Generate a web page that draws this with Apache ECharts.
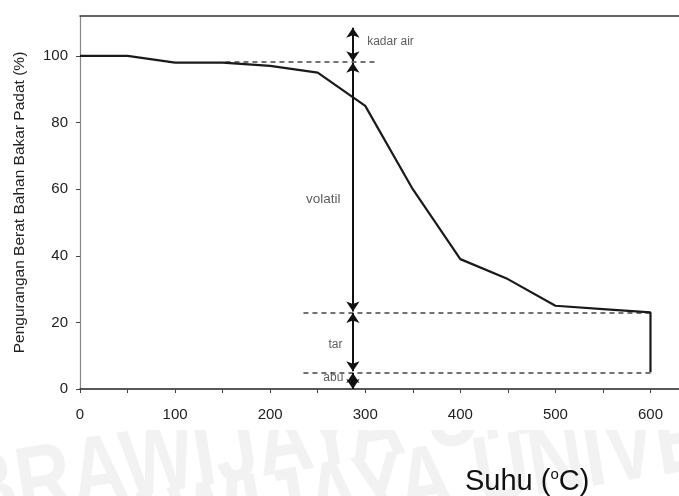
<!DOCTYPE html>
<html>
<head>
<meta charset="utf-8">
<script src="https://cdn.jsdelivr.net/npm/echarts@6/dist/echarts.min.js"></script>
<style>html,body{margin:0;padding:0;background:#fff}#c{width:679px;height:496px}</style>
</head>
<body>
<div id="c"></div>
<script>
// ---- data ----
const suhu  = [0, 50, 100, 150, 200, 250, 300, 350, 400, 450, 500, 550, 600, 600];
const berat = [100, 100, 98, 98, 97, 95, 85, 60, 39, 33, 25, 24, 23, 5];
const xTicks = [0, 50, 100, 150, 200, 250, 300, 350, 400, 450, 500, 550, 600];
const xLabels = [0, 100, 200, 300, 400, 500, 600];
const yTicks = [0, 20, 40, 60, 80, 100];
// reference levels (dashed): [y, xStart, xEnd]
const levelKadarAir = [98.2, 153, 312];
const levelTar = [23, 235, 600];
const levelAbu = [5, 235, 600];
// double-headed arrows at x = arrowX : [yStart, yEnd]
const arrowX = 287;
const arrowSegs = [[108.5, 98.4], [98, 23.3], [22.8, 5.3], [4.8, 0]];
// annotation texts: [text, x, y]
const notes = [["kadar air", 302, 104.3], ["volatil", 274, 57], ["tar", 276, 13.3], ["abu", 277, 3.3]];
const watermark = 'BRAWIJAYA UNIVERSITAS BRAWIJAYA';

const FONT = "'Liberation Sans',Arial,sans-serif";
const chart = echarts.init(document.getElementById('c'), null, {renderer: 'canvas'});

const curve = suhu.map((x, i) => [x, berat[i]]);
const dashed = [levelKadarAir, levelTar, levelAbu].map(l => ({coords: [[l[1], l[0]], [l[2], l[0]]]}));
const arrows = arrowSegs.map(s => ({coords: [[arrowX, s[0]], [arrowX, s[1]]]}));

chart.setOption({
  animation: false,
  backgroundColor: '#fff',
  grid: {left: 80, top: 16, right: -4, bottom: 107, show: false},
  graphic: [
    {type: 'text', x: -30, y: 545, rotation: 0.16, scaleX: 0.8, z: -3, silent: true,
     style: {text: watermark, fontSize: 96, fontWeight: 'bold', fontFamily: FONT, fill: '#f2f2f2', textVerticalAlign: 'bottom'}},
    {type: 'text', x: 20, y: 600, rotation: 0.16, scaleX: 0.8, z: -3, silent: true,
     style: {text: watermark, fontSize: 96, fontWeight: 'bold', fontFamily: FONT, fill: '#f2f2f2', textVerticalAlign: 'bottom'}},
    {type: 'rect', shape: {x: 0, y: 0, width: 679, height: 430}, z: -2, silent: true, style: {fill: '#fff'}},
    {type: 'text', left: 465, top: 467, z: 10,
     style: {text: '{n|Suhu (}{s|o}{n|C)}', rich: {
       n: {fontSize: 29, fontFamily: FONT, fill: '#111'},
       s: {fontSize: 15, fontFamily: FONT, fill: '#111', verticalAlign: 'top', padding: [0, 0, 12, 0]}
     }}}
  ],
  xAxis: [{
    type: 'value', min: 0, max: 630,
    axisLine: {show: true, onZero: false, lineStyle: {color: '#222', width: 1.5}},
    axisTick: {show: true, length: 4, customValues: xTicks, lineStyle: {color: '#444'}},
    axisLabel: {customValues: xLabels, margin: 18, fontSize: 15, fontFamily: FONT, color: '#222'},
    splitLine: {show: false}
  }, {
    type: 'value', min: 0, max: 630, position: 'top',
    axisLine: {show: true, onZero: false, lineStyle: {color: '#333', width: 1.5}},
    axisTick: {show: false}, axisLabel: {show: false}, splitLine: {show: false}
  }],
  yAxis: {
    type: 'value', min: 0, max: 112,
    name: 'Pengurangan Berat Bahan Bakar Padat (%)',
    nameLocation: 'middle', nameGap: 52, nameRotate: 90,
    nameTextStyle: {fontSize: 15.5, fontFamily: FONT, color: '#222'},
    axisLine: {show: true, onZero: false, lineStyle: {color: '#888', width: 1.2}},
    axisTick: {show: true, length: 4, customValues: yTicks, lineStyle: {color: '#444'}},
    axisLabel: {customValues: yTicks, margin: 12, fontSize: 15, fontFamily: FONT, color: '#222'},
    splitLine: {show: false}
  },
  series: [
    {type: 'lines', coordinateSystem: 'cartesian2d', data: dashed, symbol: 'none', silent: true,
     lineStyle: {color: '#444', width: 1.5, type: [5, 4], opacity: 1}, z: 2},
    {type: 'line', data: curve, showSymbol: false, symbol: 'none',
     lineStyle: {color: '#1a1a1a', width: 2.2}, z: 3},
    {type: 'lines', coordinateSystem: 'cartesian2d', data: arrows, symbol: ['arrow', 'arrow'], symbolSize: 10,
     lineStyle: {color: '#111', width: 2, opacity: 1}, z: 4},
    {type: 'scatter', symbolSize: 0, z: 5,
     data: notes.map(n => ({name: n[0], value: [n[1], n[2]],
       label: {position: n[0] === 'kadar air' ? 'right' : 'left',
               fontSize: n[0] === 'volatil' ? 13.5 : 12}})),
     label: {show: true, distance: 0, formatter: p => p.name, fontSize: 12, fontFamily: FONT, color: '#333'}}
  ]
});
</script>
</body>
</html>
